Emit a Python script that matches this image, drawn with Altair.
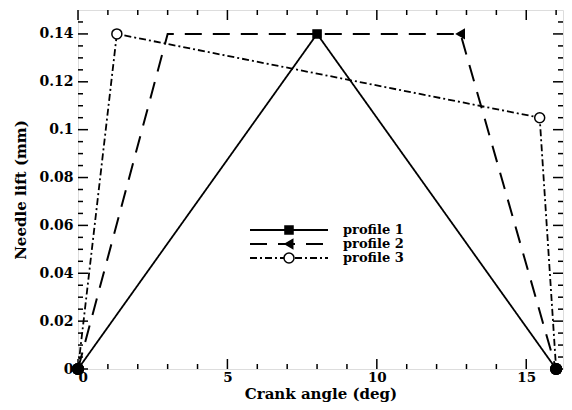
import altair as alt
import pandas as pd

# ---- data ----
series = ["profile 1", "profile 2", "profile 3"]
p1_x = [0, 8, 16]
p1_y = [0, 0.14, 0]
p2_x = [0, 3.0, 12.8, 16]
p2_y = [0, 0.14, 0.14, 0]
p3_x = [0, 1.3, 15.45, 16]
p3_y = [0, 0.14, 0.105, 0]
marker_idx = [[1], [2], [1, 2]]

x_major = [0, 5, 10, 15]
x_minor = [1, 2, 3, 4, 6, 7, 8, 9, 11, 12, 13, 14, 16]
y_major = [0, 0.02, 0.04, 0.06, 0.08, 0.1, 0.12, 0.14]
y_minor = [0.005, 0.01, 0.015, 0.025, 0.03, 0.035, 0.045, 0.05, 0.055,
           0.065, 0.07, 0.075, 0.085, 0.09, 0.095, 0.105, 0.11, 0.115,
           0.125, 0.13, 0.135, 0.145]

W, H = 485, 359
FONT = "DejaVu Serif"

xs = [p1_x, p2_x, p3_x]
ys = [p1_y, p2_y, p3_y]
dashes = [[1, 0], [17, 11], [7, 3, 2, 3]]
widths = [1.8, 2.0, 1.8]
shapes = ["square", "triangle-left", "circle"]
fills = ["black", "black", "white"]
msizes = [65, 75, 100]

xscale = alt.Scale(domain=[0, 16.23], nice=False, zero=False)
yscale = alt.Scale(domain=[0, 0.15], nice=False, zero=False)

xaxis = alt.Axis(values=x_major, format="~g", title="Crank angle (deg)",
                 ticks=False, domain=False, grid=False,
                 labelFont=FONT, labelFontWeight="bold", labelFontSize=13.5,
                 labelPadding=1, labelColor="black",
                 titleFont=FONT, titleFontWeight="bold", titleFontSize=15,
                 titleBaseline="alphabetic", titleY=29, titleColor="black")
yaxis = alt.Axis(values=y_major, format="~g", title="Needle lift (mm)",
                 ticks=False, domain=False, grid=False,
                 labelFont=FONT, labelFontWeight="bold", labelFontSize=14,
                 labelPadding=5, labelColor="black",
                 titleFont=FONT, titleFontWeight="bold", titleFontSize=15,
                 titleX=-50, titleColor="black")

layers = []
for i, name in enumerate(series):
    df = pd.DataFrame({"x": xs[i], "y": ys[i], "i": list(range(len(xs[i])))})
    line = alt.Chart(df).mark_line(color="black", strokeWidth=widths[i],
                                   strokeDash=dashes[i], clip=True).encode(
        x=alt.X("x:Q", scale=xscale, axis=xaxis),
        y=alt.Y("y:Q", scale=yscale, axis=yaxis),
        order="i:Q")
    layers.append(line)
for i, name in enumerate(series):
    df = pd.DataFrame({"x": [xs[i][k] for k in marker_idx[i]],
                       "y": [ys[i][k] for k in marker_idx[i]]})
    pts = alt.Chart(df).mark_point(shape=shapes[i], filled=False, fill=fills[i],
                                   fillOpacity=1, stroke="black", strokeWidth=1.5,
                                   size=msizes[i], opacity=1).encode(
        x=alt.X("x:Q", scale=xscale, axis=xaxis),
        y=alt.Y("y:Q", scale=yscale, axis=yaxis))
    layers.append(pts)

# end points (start and end of every profile)
ends = pd.DataFrame({"x": [xs[i][j] for i in range(3) for j in (0, -1)],
                     "y": [ys[i][j] for i in range(3) for j in (0, -1)]})
layers.append(alt.Chart(ends).mark_circle(color="black", size=150, opacity=1).encode(
    x=alt.X("x:Q", scale=xscale, axis=xaxis),
    y=alt.Y("y:Q", scale=yscale, axis=yaxis)))

# inward ticks on all four sides
def xticks(vals, length):
    df = pd.DataFrame({"x": vals})
    b = alt.Chart(df).mark_rule(color="black", strokeWidth=1.5).encode(
        x=alt.X("x:Q", scale=xscale, axis=xaxis),
        y=alt.value(H), y2=alt.value(H - length))
    t = alt.Chart(df).mark_rule(color="black", strokeWidth=1.5).encode(
        x=alt.X("x:Q", scale=xscale, axis=xaxis),
        y=alt.value(0), y2=alt.value(length))
    return [b, t]

def yticks(vals, length):
    df = pd.DataFrame({"y": vals})
    l = alt.Chart(df).mark_rule(color="black", strokeWidth=1.5).encode(
        y=alt.Y("y:Q", scale=yscale, axis=yaxis),
        x=alt.value(0), x2=alt.value(length))
    r = alt.Chart(df).mark_rule(color="black", strokeWidth=1.5).encode(
        y=alt.Y("y:Q", scale=yscale, axis=yaxis),
        x=alt.value(W), x2=alt.value(W - length))
    return [l, r]

layers += xticks(x_major, 10) + xticks(x_minor, 5)
layers += yticks(y_major, 10) + yticks(y_minor, 5)

# legend
LX0, LX1, LY0, LDY, LTX = 172, 250, 220, 14, 265
for i, name in enumerate(series):
    ld = pd.DataFrame({"label": [name]})
    yy = LY0 + LDY * i
    layers.append(alt.Chart(ld).mark_rule(color="black", strokeWidth=widths[i],
                                          strokeDash=dashes[i]).encode(
        x=alt.value(LX0), x2=alt.value(LX1), y=alt.value(yy)))
    layers.append(alt.Chart(ld).mark_point(shape=shapes[i], filled=False, fill=fills[i],
                                           fillOpacity=1, stroke="black", strokeWidth=1.5,
                                           size=msizes[i], opacity=1).encode(
        x=alt.value((LX0 + LX1) / 2), y=alt.value(yy)))
    layers.append(alt.Chart(ld).mark_text(align="left", baseline="middle", font=FONT,
                                          fontWeight="bold", fontSize=13, color="black").encode(
        x=alt.value(LTX), y=alt.value(yy), text="label:N"))

chart = alt.layer(*layers).properties(
    width=W, height=H,
    autosize=alt.AutoSizeParams(type="none"),
    padding={"left": 70, "top": 2, "right": 1, "bottom": 33},
).configure_view(stroke="black", strokeWidth=2).configure(background="white")

chart.save("out.html", embed_options={"renderer": "svg", "actions": False})
